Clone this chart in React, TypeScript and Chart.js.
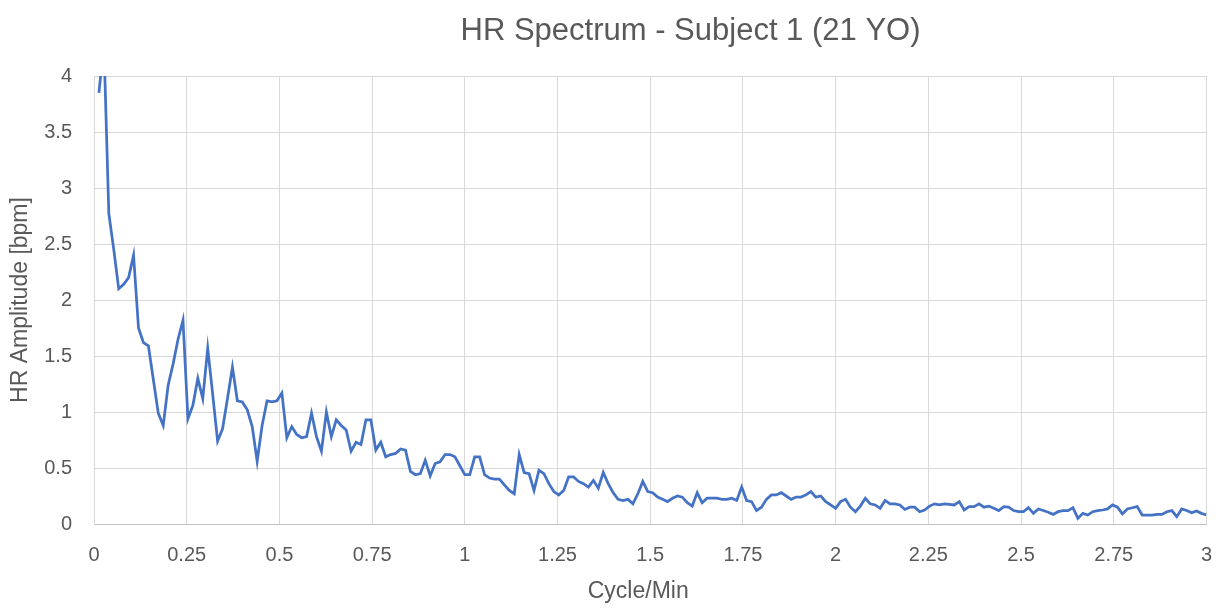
import React, { useEffect, useRef } from "react";
import { Chart, registerables } from "chart.js";

Chart.register(...registerables);

const chartTitle = "HR Spectrum - Subject 1 (21 YO)";
const xAxisTitle = "Cycle/Min";
const yAxisTitle = "HR Amplitude [bpm]";

// HR amplitude spectrum (bpm), one value per frequency bin (bin width 1/75 cycle/min)
const amplitude = [
  3.85, 4.3, 2.77, 2.45, 2.1, 2.14, 2.2, 2.4, 1.75, 1.62,
  1.59, 1.29, 0.99, 0.88, 1.24, 1.43, 1.65, 1.82, 0.94, 1.06,
  1.3, 1.12, 1.57, 1.16, 0.74, 0.85, 1.12, 1.4, 1.1, 1.09,
  1.02, 0.87, 0.56, 0.88, 1.1, 1.09, 1.1, 1.17, 0.77, 0.87,
  0.8, 0.77, 0.78, 0.99, 0.78, 0.65, 1.0, 0.78, 0.93, 0.88,
  0.84, 0.65, 0.73, 0.71, 0.93, 0.93, 0.66, 0.73, 0.6, 0.62,
  0.63, 0.67, 0.66, 0.47, 0.44, 0.45, 0.57, 0.43, 0.54, 0.555,
  0.62, 0.62, 0.6, 0.52, 0.44, 0.44, 0.6, 0.6, 0.44, 0.41,
  0.4, 0.4, 0.35, 0.3, 0.27, 0.62, 0.46, 0.45, 0.3, 0.48,
  0.45, 0.36, 0.29, 0.26, 0.3, 0.42, 0.42, 0.38, 0.36, 0.33,
  0.39, 0.32, 0.46, 0.36, 0.28, 0.22, 0.21, 0.22, 0.18, 0.27,
  0.38, 0.29, 0.28, 0.24, 0.22, 0.2, 0.23, 0.25, 0.24, 0.19,
  0.16, 0.28, 0.19, 0.23, 0.23, 0.23, 0.22, 0.22, 0.23, 0.21,
  0.33, 0.21, 0.2, 0.12, 0.15, 0.22, 0.26, 0.26, 0.28, 0.25,
  0.22, 0.24, 0.24, 0.26, 0.29, 0.24, 0.25, 0.2, 0.17, 0.14,
  0.2, 0.22, 0.15, 0.11, 0.16, 0.23, 0.18, 0.17, 0.14, 0.21,
  0.18, 0.18, 0.17, 0.13, 0.15, 0.15, 0.11, 0.125, 0.16, 0.18,
  0.17, 0.18, 0.176, 0.17, 0.2, 0.125, 0.155, 0.155, 0.18, 0.15,
  0.16, 0.14, 0.12, 0.155, 0.15, 0.12, 0.11, 0.11, 0.146, 0.095,
  0.134, 0.12, 0.105, 0.086, 0.11, 0.119, 0.12, 0.146, 0.05, 0.095,
  0.08, 0.11, 0.12, 0.125, 0.135, 0.17, 0.15, 0.09, 0.134, 0.145,
  0.155, 0.08, 0.08, 0.08, 0.085, 0.085, 0.11, 0.12, 0.065, 0.134,
  0.12, 0.1, 0.116, 0.095, 0.08,
];

const binsPerCycle = 75;
const frequency = amplitude.map((_, i) => (i + 1) / binsPerCycle);

const xTickValues = [0, 0.25, 0.5, 0.75, 1, 1.25, 1.5, 1.75, 2, 2.25, 2.5, 2.75, 3];
const xTickLabels = ["0", "0.25", "0.5", "0.75", "1", "1.25", "1.5", "1.75", "2", "2.25", "2.5", "2.75", "3"];
const yTickValues = [0, 0.5, 1, 1.5, 2, 2.5, 3, 3.5, 4];
const yTickLabels = ["0", "0.5", "1", "1.5", "2", "2.5", "3", "3.5", "4"];

const FONT = '"Liberation Sans", Arial, sans-serif';
const TEXT = "#595959";
const GRID = "#d9d9d9";
const LINE = "#4472C4";

const titlePlugin = {
  id: "customTitles",
  afterDraw(chart: any) {
    const ctx = chart.ctx;
    const area = chart.chartArea;
    ctx.save();
    ctx.fillStyle = TEXT;
    ctx.textAlign = "center";
    ctx.textBaseline = "alphabetic";
    ctx.font = `31px ${FONT}`;
    ctx.fillText(chartTitle, chart.width / 2 + 75, 40);
    ctx.font = `23px ${FONT}`;
    ctx.fillText(xAxisTitle, (area.left + area.right) / 2 - 12, 598);
    ctx.restore();
  },
};

export default function App() {
  const ref = useRef<HTMLCanvasElement | null>(null);

  useEffect(() => {
    document.body.style.margin = "0";
    if (!ref.current) return;
    const chart = new Chart(ref.current, {
      type: "line",
      data: {
        datasets: [
          {
            data: frequency.map((f, i) => ({ x: f, y: amplitude[i] })),
            borderColor: LINE,
            backgroundColor: LINE,
            borderWidth: 2.75,
            pointRadius: 0,
            tension: 0,
            fill: false,
            clip: 0,
          },
        ],
      },
      options: {
        animation: false,
        responsive: false,
        layout: { padding: { top: 76, right: 15, bottom: 0, left: 0 } },
        plugins: {
          legend: { display: false },
          title: { display: false },
          tooltip: { enabled: false },
        },
        scales: {
          x: {
            type: "linear",
            min: 0,
            max: 3,
            afterBuildTicks: (scale: any) => {
              scale.ticks = xTickValues.map((v) => ({ value: v }));
            },
            afterFit: (scale: any) => {
              scale.height = 84;
            },
            grid: { color: GRID, lineWidth: 1, drawTicks: false },
            border: { color: "#bfbfbf", width: 1 },
            ticks: {
              padding: 19,
              color: TEXT,
              font: { family: FONT, size: 20 },
              maxRotation: 0,
              autoSkip: false,
              callback: (_v: any, i: number) => xTickLabels[i],
            },
            title: { display: false },
          },
          y: {
            type: "linear",
            min: 0,
            max: 4,
            afterBuildTicks: (scale: any) => {
              scale.ticks = yTickValues.map((v) => ({ value: v }));
            },
            afterFit: (scale: any) => {
              scale.width = 94;
            },
            grid: { color: GRID, lineWidth: 1, drawTicks: false },
            border: { color: GRID, width: 1 },
            ticks: {
              padding: 22,
              color: TEXT,
              font: { family: FONT, size: 20 },
              autoSkip: false,
              callback: (_v: any, i: number) => yTickLabels[i],
            },
            title: {
              display: true,
              text: yAxisTitle,
              color: TEXT,
              font: { family: FONT, size: 23 },
              padding: { top: 7, bottom: 0 },
            },
          },
        },
      },
      plugins: [titlePlugin],
    });
    return () => chart.destroy();
  }, []);

  return (
    <div style={{ width: 1231, height: 608 }}>
      <canvas ref={ref} width={1231} height={608} style={{ display: "block" }} />
    </div>
  );
}
